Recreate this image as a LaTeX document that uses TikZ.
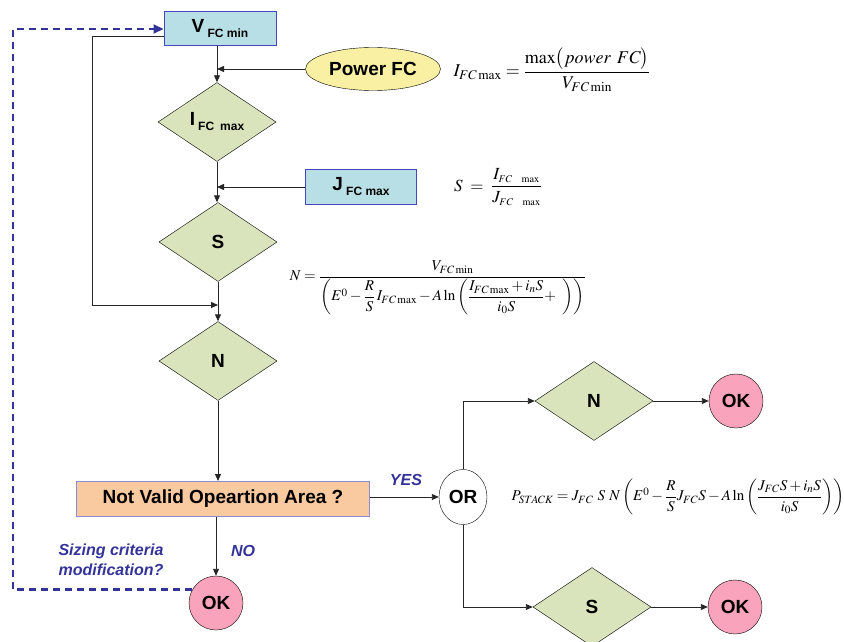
\documentclass[tikz,border=0pt]{standalone}
\usepackage{amsmath}
\usepackage{mathptmx}
\usepackage[no-math]{fontspec}
\setmainfont{Liberation Sans}
\usetikzlibrary{arrows.meta,positioning,shapes.geometric}
\definecolor{cyanbox}{HTML}{B9DFE6}
\definecolor{edgeblue}{HTML}{4646BE}
\definecolor{olivebox}{HTML}{D9E4BC}
\definecolor{peach}{HTML}{F9C9A0}
\definecolor{peachedge}{HTML}{8C8CD2}
\definecolor{okpink}{HTML}{F9A3BC}
\definecolor{pfcyellow}{HTML}{F9F0A3}
\definecolor{noteblue}{HTML}{333399}
\newcommand{\lsub}[2]{#1\,\raisebox{-5pt}{\fontsize{12}{14}\selectfont #2}}

\begin{document}
\begin{tikzpicture}[x=1pt, y=-1pt, >={Triangle[length=7pt,width=6pt]},
    wire/.style={draw=black!85, line width=0.9pt},
    arr/.style={wire, ->},
    lbl/.style={font=\fontsize{19}{22}\selectfont\bfseries, inner sep=0pt},
    inbox/.style={lbl, draw=edgeblue, line width=1pt, fill=cyanbox, minimum width=112pt, minimum height=34pt},
    decide/.style={lbl, diamond, draw, fill=olivebox, minimum width=118pt, minimum height=79pt},
    okay/.style={lbl, circle, draw, fill=okpink, minimum size=54pt},
    note/.style={font=\fontsize{16}{20}\selectfont\bfseries\itshape, text=noteblue, inner sep=0pt},
    eqn/.style={inner sep=0pt},
    fback/.style={draw=noteblue, line width=2.2pt, dash pattern=on 7pt off 5pt, -{Triangle[length=10pt,width=9pt]}}]
\useasboundingbox (0,0) rectangle (844,642);
\node[inbox] (vfc) at (220,29) {\lsub{V}{FC min}};
\node[lbl, ellipse, draw, fill=pfcyellow, minimum width=135pt, minimum height=43pt] (pfc) at (373,69) {Power FC};
\node[decide] (iq) at (217,122) {\lsub{I}{FC\enspace max}};
\node[inbox, minimum width=111pt, minimum height=35pt] (jfc) at (361,187) {\lsub{J}{FC max}};
\node[decide] (sq) at (218,242) {S};
\node[decide] (nq) at (218,361) {N};
\node[lbl, draw=peachedge, line width=1pt, fill=peach, minimum width=293pt, minimum height=35pt] (area) at (223,499) {Not Valid Opeartion Area ?};
\node[okay] (ok1) at (216,603) {OK};
\node[lbl, ellipse, draw, fill=white, minimum width=48pt, minimum height=55pt] (or) at (463,497) {OR};
\node[decide] (n2) at (594,401) {N};
\node[okay] (ok2) at (736,401) {OK};
\node[decide] (s2) at (592,607) {S};
\node[okay] (ok3) at (735,607) {OK};
\node[eqn, font=\fontsize{18}{20}\selectfont] (fi) at (552,70) {$I_{FC\,\mathrm{max}} = \dfrac{\max\bigl(power\;\, FC\bigr)}{V_{FC\,\mathrm{min}}}$};
\node[eqn, font=\fontsize{17}{19}\selectfont] (fs) at (498,187) {$S \;=\; \dfrac{I_{\scriptscriptstyle FC\ \ \mathrm{max}}}{J_{\scriptscriptstyle FC\ \ \mathrm{max}}}$};
\node[eqn, font=\fontsize{15}{17}\selectfont] (fn) at (438,288) {$N = \dfrac{V_{FC\,\mathrm{min}}}{\left(E^0 - \dfrac{R}{S}\,I_{FC\,\mathrm{max}} - A\ln\left(\dfrac{I_{FC\,\mathrm{max}} + i_n S}{i_0 S} + \;\;\right)\right)}$};
\node[eqn, font=\fontsize{15}{17}\selectfont] (fp) at (678,497) {$P_{STACK} = J_{FC}\ S\ N \left(E^0 - \dfrac{R}{S}J_{FC}S - A\ln\left(\dfrac{J_{FC}S + i_n S}{i_0 S}\right)\right)$};
\node[note] (yes) at (406,480) {YES};
\node[note] (no) at (243,551) {NO};
\node[note, align=left] (sizing) at (111,560) {Sizing criteria\\modification?};
\coordinate (bk) at (92,305);
\coordinate (fb) at (13,300);
\draw[arr] (vfc.south -| iq.north) -- (iq.north);
\draw[arr] (pfc.west) -- (pfc.west -| iq.north);
\draw[arr] (iq.south) -- (iq.south |- sq.north);
\draw[arr] (jfc.west) -- (jfc.west -| iq.south);
\draw[arr] ([yshift=-7pt]vfc.west) -| (bk) -- (bk -| nq.north);
\draw[arr] (sq.south) -- (nq.north);
\draw[arr] (nq.south) -- (nq.south |- area.north);
\draw[arr] (area.south -| ok1.north) -- (ok1.north);
\draw[arr] (area.east |- or.west) -- (or.west);
\draw[arr] (or.north) |- (n2.west);
\draw[arr] (or.south) |- (s2.west);
\draw[arr] (n2.east) -- (ok2.west);
\draw[arr] (s2.east) -- (ok3.west);
\draw[fback] (ok1.150) -| (fb) |- (vfc.west);
\end{tikzpicture}
\end{document}
